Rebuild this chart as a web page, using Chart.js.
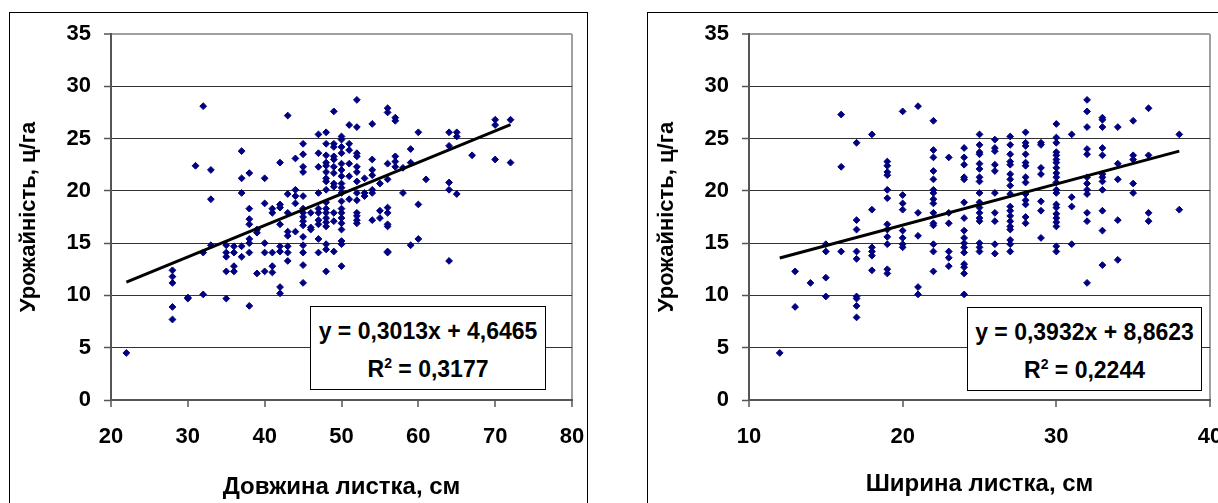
<!DOCTYPE html>
<html>
<head>
  <meta charset="utf-8" />
  <title>Урожайність і розміри листка</title>
  <script src="https://cdn.jsdelivr.net/npm/chart.js"></script>
  <style>
    body {
      background: white;
      margin: 0;
      width: 1218px;
      height: 503px;
      overflow: hidden;
      position: relative;
      font-family: "Liberation Sans", Arial, sans-serif;
    }
    .panel {
      position: absolute;
      top: 12px;
      height: 520px;
      border: 1px solid #000;
      background: #fff;
    }
    .panel canvas { position: absolute; left: 0; top: 0; }
    .eq {
      position: absolute;
      box-sizing: border-box;
      height: 84px;
      border: 1px solid #000;
      background: #fff;
      padding-top: 5px;
      text-align: center;
      font-weight: bold;
      font-size: 23px;
      line-height: 38px;
      white-space: nowrap;
    }
    .eq sup { font-size: 14px; vertical-align: 9px; line-height: 0; }
  </style>
</head>
<body>

  <div class="panel" style="left: 9px; width: 577px;">
    <canvas id="lengthChart" width="577" height="490"></canvas>
  </div>
  <div class="panel" style="left: 647px; width: 600px;">
    <canvas id="widthChart" width="577" height="490"></canvas>
  </div>

  <div class="eq" style="left: 310px; top: 306px; width: 236px;">
    y = 0,3013x + 4,6465<br>R<sup>2</sup> = 0,3177
  </div>
  <div class="eq" style="left: 967px; top: 307px; width: 235px;">
    y = 0,3932x + 8,8623<br>R<sup>2</sup> = 0,2244
  </div>

  <script>
    // leaf length (cm) -> yields (c/ha), grouped by x
    const lengthGroups = [
      [22, [4.5]],
      [28, [12.4, 11.8, 11.2, 8.9, 7.7]],
      [30, [9.8, 9.7]],
      [31, [22.4]],
      [32, [28.1, 14.1, 10.1]],
      [33, [22.0, 19.2, 14.8]],
      [35, [14.8, 14.1, 13.7, 12.3, 9.7]],
      [36, [14.7, 14.1, 12.8, 12.3]],
      [37, [23.8, 21.2, 19.8, 14.7, 13.7]],
      [38, [21.7, 18.3, 17.3, 16.8, 15.4, 15.0, 14.1, 9.0]],
      [39, [16.3, 16.0, 12.1]],
      [40, [21.2, 18.8, 15.0, 14.1, 12.3]],
      [41, [18.3, 17.9, 14.1, 12.8, 12.2]],
      [42, [22.7, 18.7, 18.4, 16.8, 14.7, 14.2, 10.8, 10.2]],
      [43, [27.2, 19.7, 17.9, 16.1, 15.7, 14.7, 14.1, 13.3]],
      [44, [23.1, 20.1, 19.5, 18.8, 16.1]],
      [45, [24.5, 23.5, 22.3, 21.8, 19.5, 18.3, 17.9, 17.5, 17.1, 16.7, 15.6, 14.8, 14.1, 12.9, 11.2]],
      [46, [17.9, 16.5, 16.3]],
      [47, [25.4, 23.6, 22.3, 19.8, 18.3, 17.9, 17.2, 16.8, 15.4, 14.1]],
      [48, [25.6, 24.5, 23.4, 22.7, 22.4, 21.8, 21.2, 20.9, 20.1, 18.9, 18.3, 17.9, 17.4, 17.0, 16.6, 14.9, 14.4, 12.3]],
      [49, [27.6, 24.5, 24.2, 23.3, 23.0, 22.3, 21.7, 20.7, 20.4, 17.9, 17.1, 14.2]],
      [50, [25.2, 24.9, 24.2, 23.6, 22.6, 22.0, 21.4, 20.7, 20.3, 19.8, 19.0, 18.3, 17.9, 17.4, 16.9, 16.3, 15.2, 14.9, 12.8]],
      [51, [26.3, 24.5, 23.9, 22.6, 21.4, 19.2]],
      [52, [28.7, 26.1, 23.6, 23.3, 22.3, 21.8, 20.9, 19.8, 19.1, 17.9, 17.6, 17.2, 16.9]],
      [53, [21.2, 19.8, 19.5]],
      [54, [26.4, 23.0, 22.0, 21.5, 20.1, 19.8, 17.2]],
      [55, [20.7, 18.1, 17.4]],
      [56, [27.9, 27.5, 22.6, 21.1, 18.4, 17.9, 16.8, 16.6, 14.2, 14.1]],
      [57, [27.0, 26.7, 23.3, 22.8, 22.3]],
      [58, [22.2, 19.8]],
      [59, [24.0, 22.7, 14.8]],
      [60, [25.6, 18.7, 15.4]],
      [61, [21.1]],
      [64, [25.6, 24.3, 20.8, 20.1, 13.3]],
      [65, [25.6, 25.2, 19.7]],
      [67, [23.4]],
      [70, [26.8, 26.3, 23.0]],
      [72, [26.8, 22.7]]
    ];

    // leaf width (cm) -> yields
    const widthGroups = [
      [12, [4.5]],
      [13, [12.3, 8.9]],
      [14, [11.2]],
      [15, [14.9, 14.2, 11.7, 9.9]],
      [16, [27.3, 22.3, 14.2]],
      [17, [24.6, 17.2, 16.3, 14.2, 13.5, 9.9, 9.7, 9.0, 7.9]],
      [18, [25.4, 18.2, 14.6, 14.2, 13.8, 12.4]],
      [19, [22.8, 22.4, 21.8, 21.5, 20.1, 19.3, 16.8, 16.3, 15.6, 14.9, 12.5, 12.1]],
      [20, [27.6, 19.6, 18.8, 18.2, 16.2, 15.5, 14.9, 14.6]],
      [21, [28.1, 17.9, 15.7, 10.8, 10.1]],
      [22, [26.7, 23.9, 23.2, 21.9, 21.1, 20.1, 19.8, 19.2, 18.8, 17.9, 16.9, 16.7, 14.9, 14.2, 12.3]],
      [23, [23.2, 17.9, 16.9, 14.2, 13.6, 12.8]],
      [24, [24.1, 23.2, 22.5, 21.3, 21.1, 18.9, 17.4, 16.2, 15.5, 15.0, 14.6, 14.1, 13.0, 12.7, 12.1, 10.1]],
      [25, [25.4, 24.4, 23.7, 23.5, 22.6, 22.1, 21.3, 20.9, 19.8, 18.9, 18.4, 17.9, 17.4, 17.1, 15.0, 14.6, 14.2]],
      [26, [24.9, 24.1, 23.8, 22.5, 21.9, 19.8, 17.9, 17.1, 14.9, 14.0]],
      [27, [25.2, 24.4, 23.5, 22.8, 22.5, 21.6, 21.1, 20.5, 19.7, 18.5, 18.1, 17.6, 17.1, 16.6, 16.3, 15.3, 14.9, 14.2]],
      [28, [25.6, 24.6, 24.3, 23.5, 22.7, 22.4, 21.3, 20.8, 19.7, 19.1, 18.7, 17.5, 16.9]],
      [29, [24.6, 24.4, 22.2, 21.6, 19.0, 18.1, 15.5]],
      [30, [26.4, 25.1, 24.6, 23.7, 23.4, 23.0, 22.7, 22.2, 21.7, 21.3, 20.8, 20.1, 19.8, 18.7, 18.4, 17.8, 17.4, 17.0, 16.6, 14.7, 14.2]],
      [31, [25.4, 19.4, 18.5, 14.9]],
      [32, [28.7, 27.6, 26.1, 24.0, 23.5, 21.3, 20.7, 20.1, 19.7, 17.9, 17.1, 11.2]],
      [33, [27.0, 26.8, 26.1, 24.1, 23.4, 21.6, 21.3, 20.9, 20.1, 18.1, 16.2, 12.9]],
      [34, [26.1, 22.6, 21.1, 17.2, 13.4]],
      [35, [26.7, 23.4, 23.0, 20.7, 19.8]],
      [36, [27.9, 23.4, 17.9, 17.1]],
      [38, [25.4, 18.2]]
    ];

    // trend lines as printed in the boxes
    const lengthTrend = { slope: 0.3013, intercept: 4.6465, xs: [22, 72] };
    const widthTrend = { slope: 0.3932, intercept: 8.8623, xs: [12, 38] };

    const yTicks = [0, 5, 10, 15, 20, 25, 30, 35];
    const lengthTicks = [20, 30, 40, 50, 60, 70, 80];
    const widthTicks = [10, 20, 30, 40];

    const yTitle = 'Урожайність, ц/га';

    function flatten(groups) {
      const pts = [];
      groups.forEach(([x, ys]) => ys.forEach(y => pts.push({ x: x, y: y })));
      return pts;
    }

    function trendPoints(t) {
      return t.xs.map(x => ({ x: x, y: t.slope * x + t.intercept }));
    }

    const family = '"Liberation Sans", Arial, sans-serif';
    const tickFont = { family: family, size: 22, weight: 'bold' };
    const xTitleFont = { family: family, size: 24, weight: 'bold' };
    const yTitleFont = { family: family, size: 22, weight: 'bold' };

    function makeChart(id, groups, trend, xTicks, xTitle, titlePad) {
      const xMin = xTicks[0], xMax = xTicks[xTicks.length - 1];
      const yMax = yTicks[yTicks.length - 1];
      return new Chart(document.getElementById(id), {
        type: 'scatter',
        data: {
          datasets: [
            {
              data: trendPoints(trend),
              showLine: true,
              borderColor: '#000',
              borderWidth: 3,
              pointRadius: 0
            },
            {
              data: flatten(groups),
              pointStyle: 'rectRot',
              pointRadius: 3.4,
              borderWidth: 1,
              backgroundColor: '#000080',
              borderColor: '#000080'
            }
          ]
        },
        options: {
          responsive: false,
          animation: false,
          devicePixelRatio: 1,
          layout: { padding: { top: 21, right: 15, left: 0, bottom: 0 } },
          plugins: {
            legend: { display: false },
            tooltip: { enabled: false }
          },
          scales: {
            x: {
              type: 'linear',
              min: xMin,
              max: xMax,
              ticks: { stepSize: xTicks[1] - xTicks[0], font: tickFont, color: '#000', padding: 17, maxRotation: 0 },
              grid: {
                color: ctx => ctx.tick && ctx.tick.value === xMax ? '#a0a0a0' : 'rgba(0,0,0,0)',
                lineWidth: 2,
                tickColor: '#555',
                tickWidth: 1.5,
                tickLength: 7
              },
              border: { color: '#555', width: 2 },
              title: { display: true, text: xTitle, font: xTitleFont, color: '#000', padding: { top: 0, bottom: titlePad } },
              // fixed box, label overflow handled by layout padding
              afterFit: s => { s.height = 103; s.paddingLeft = 0; s.paddingRight = 0; }
            },
            y: {
              min: yTicks[0],
              max: yMax,
              ticks: { stepSize: yTicks[1] - yTicks[0], font: tickFont, color: '#000', padding: 13 },
              grid: {
                color: ctx => ctx.tick && ctx.tick.value === yMax ? '#a0a0a0' : '#333',
                lineWidth: ctx => ctx.tick && ctx.tick.value === yMax ? 2 : 1,
                tickColor: '#555',
                tickWidth: 1.5,
                tickLength: 7
              },
              border: { color: '#555', width: 2 },
              title: { display: true, text: yTitle, font: yTitleFont, color: '#000', padding: { top: 6, bottom: 0 } },
              afterFit: s => { s.width = 101; s.paddingTop = 0; s.paddingBottom = 0; }
            }
          }
        }
      });
    }

    makeChart('lengthChart', lengthGroups, lengthTrend, lengthTicks, 'Довжина листка, см', 1);
    makeChart('widthChart', widthGroups, widthTrend, widthTicks, 'Ширина листка, см', 4);
  </script>

</body>
</html>
